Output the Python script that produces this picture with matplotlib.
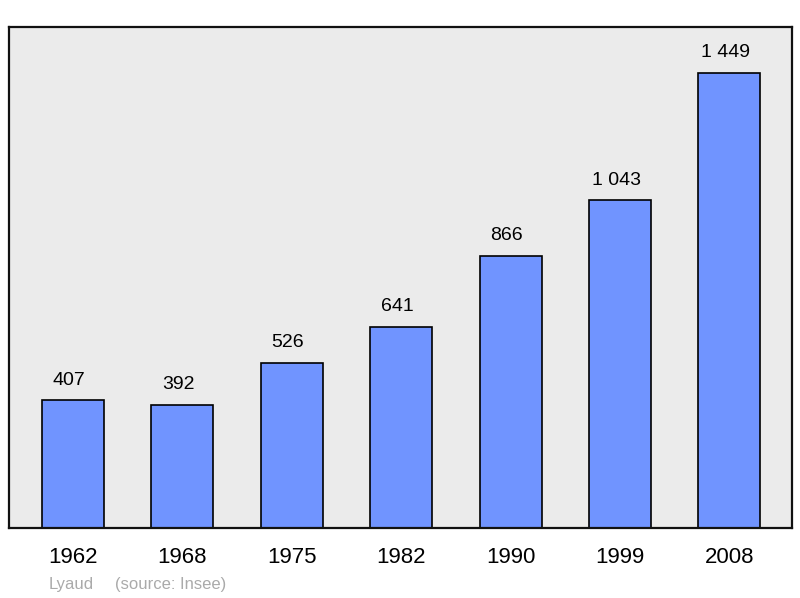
import matplotlib.pyplot as plt
from matplotlib.transforms import offset_copy

plt.rcParams['font.family'] = ['Liberation Sans', 'DejaVu Sans']

# Data
years = ['1962', '1968', '1975', '1982', '1990', '1999', '2008']
population = [407, 392, 526, 641, 866, 1043, 1449]
labels = ['407', '392', '526', '641', '866', '1 043', '1 449']
commune = 'Lyaud'
source = '(source: Insee)'

fig = plt.figure(figsize=(8, 5.98), dpi=100)
ax = fig.add_axes([9 / 800, 70 / 598, 783 / 800, 501 / 598])
ax.set_facecolor('#ebebeb')

x = range(len(years))
ax.bar(x, population, width=0.567, color='#7094ff', edgecolor='black',
       linewidth=1.2, zorder=2)

ax.set_xlim(-0.585, 6.572)
ax.set_ylim(0, 1595)

# value labels above bars (slightly left of centre, as in the original)
lab_tr = offset_copy(ax.transData, fig=fig, x=-4, y=22, units='dots')
for xi, v, t in zip(x, population, labels):
    ax.text(xi, v, t, transform=lab_tr, ha='center', va='center_baseline',
            fontsize=14, color='black')

# year labels below axis
yr_tr = offset_copy(ax.get_xaxis_transform(), fig=fig, x=0, y=-27, units='dots')
for xi, yr in zip(x, years):
    ax.text(xi, 0, yr, transform=yr_tr, ha='center', va='center_baseline',
            fontsize=16, color='black')

ax.set_xticks([])
ax.set_yticks([])
for s in ax.spines.values():
    s.set_linewidth(1.6)
    s.set_color('#111111')

fig.text(49 / 800, 1 - 584 / 598, commune, fontsize=12, color='#aaaaaa',
         ha='left', va='center')
fig.text(115 / 800, 1 - 584 / 598, source, fontsize=12, color='#aaaaaa',
         ha='left', va='center')

fig.savefig('out.png', dpi=100)
